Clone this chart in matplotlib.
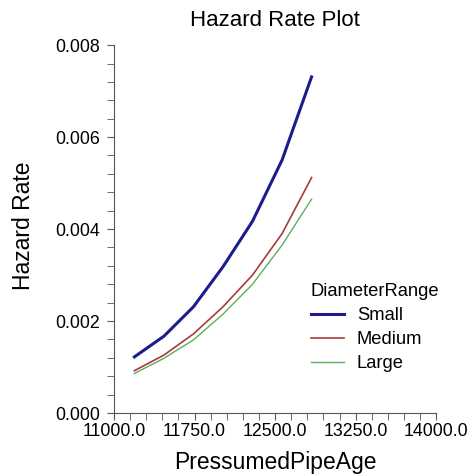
import numpy as np
import matplotlib.pyplot as plt
from matplotlib.ticker import FixedLocator, FormatStrFormatter

plt.rcParams['font.family'] = ['Liberation Sans', 'DejaVu Sans']

# Pipe age points and hazard rate per diameter range
pipe_age = [11190, 11465, 11740, 12015, 12290, 12565, 12840]
small = [0.00122, 0.00167, 0.00231, 0.00318, 0.00417, 0.00550, 0.00731]
medium = [0.00092, 0.00126, 0.00172, 0.00231, 0.00300, 0.00390, 0.00512]
large = [0.00086, 0.00119, 0.00159, 0.00215, 0.00280, 0.00365, 0.00465]

fig = plt.figure(figsize=(4.69, 4.75), dpi=100)
ax = fig.add_axes([0.243, 0.1305, 0.687, 0.7745])

ax.plot(pipe_age, small, color='#1c1c8c', lw=2.2, label='Small')
ax.plot(pipe_age, medium, color='#a83a3a', lw=1.2, label='Medium')
ax.plot(pipe_age, large, color='#5cae5c', lw=1.0, label='Large')

ax.set_xlim(11000, 14000)
ax.set_ylim(0, 0.008)
ax.xaxis.set_major_locator(FixedLocator(np.arange(11000, 14001, 750)))
ax.xaxis.set_minor_locator(FixedLocator(np.arange(11000, 14001, 150)))
ax.yaxis.set_major_locator(FixedLocator(np.linspace(0, 0.008, 5)))
ax.yaxis.set_minor_locator(FixedLocator(np.linspace(0, 0.008, 21)))
ax.xaxis.set_major_formatter(FormatStrFormatter('%.1f'))
ax.yaxis.set_major_formatter(FormatStrFormatter('%.3f'))

for side in ['top', 'right']:
    ax.spines[side].set_visible(False)
for side in ['left', 'bottom']:
    ax.spines[side].set_color('#555555')
ax.tick_params(which='both', length=5, color='#555555', labelsize=12.8)
ax.tick_params(axis='x', pad=2)
ax.tick_params(axis='y', pad=5)

ax.set_title("Hazard Rate Plot", fontsize=16, pad=14)
ax.set_xlabel("PressumedPipeAge", fontsize=16.5)
ax.set_ylabel("Hazard Rate", fontsize=16.5)
ax.xaxis.set_label_coords(0.5, -0.102)
ax.yaxis.set_label_coords(-0.245, 0.51)

leg = ax.legend(title='DiameterRange', loc='upper left', bbox_to_anchor=(0.56, 0.397),
                frameon=False, fontsize=13.2, title_fontsize=13.2,
                handlelength=1.8, labelspacing=0.38, handletextpad=0.7)
leg._legend_box.align = 'left'

fig.savefig('out.png', dpi=100)
